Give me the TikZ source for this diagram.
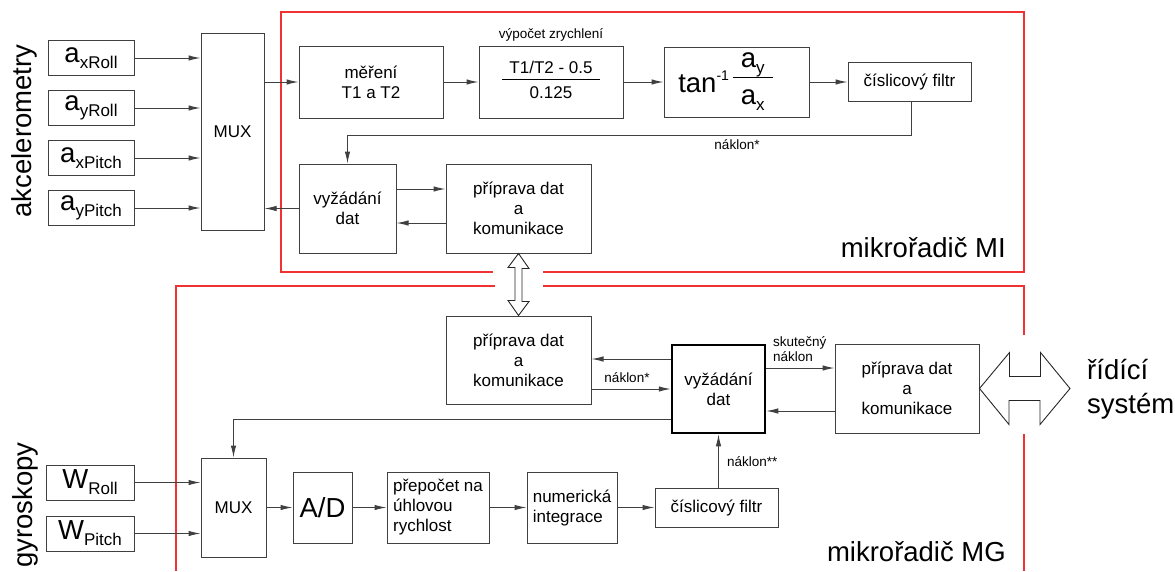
\documentclass[tikz,border=0pt]{standalone}
\usepackage{fontspec}
\setmainfont{Liberation Sans}
\usetikzlibrary{arrows.meta,calc}

\definecolor{boxgray}{RGB}{64,64,64}
\definecolor{framered}{RGB}{240,50,50}

\newcommand\fsbox{\fontsize{17}{20}\selectfont}
\newcommand\fslbl{\fontsize{13.5}{15.5}\selectfont}
\newcommand\fsbig{\fontsize{27.5}{34}\selectfont}
\newcommand\fssub{\fontsize{17}{20}\selectfont}
\newcommand\fssup{\fontsize{14}{16}\selectfont}
% large letter with a smaller, lowered index
\newcommand\bigsub[2]{{\fsbig #1}\raisebox{-6pt}{\fssub #2}}

\tikzset{
  blk/.style={draw=boxgray, line width=1pt, inner sep=0pt, align=center, font=\fsbox},
  thickblk/.style={blk, draw=black, line width=2.5pt},
  arr/.style={draw=boxgray, line width=1pt, -{Latex[length=12pt,width=5.5pt]}},
  wire/.style={draw=boxgray, line width=1pt},
  frame/.style={draw=framered, line width=1.2pt},
  hollow/.style={draw=black!85, line width=0.9pt, fill=white, line join=miter},
  lbl/.style={font=\fslbl, inner sep=0pt},
  biglbl/.style={font=\fsbig, inner sep=0pt},
}

\begin{document}
\begin{tikzpicture}[x=1pt,y=-1pt]
\useasboundingbox (0,0) rectangle (1175,571);

% ---------- controller frames ----------
\draw[frame] (493,272) -- (281,272) -- (281,12) -- (1024,12) -- (1024,272) -- (543,272);
\draw[frame] (495,286) -- (176,286) -- (176,571);
\draw[frame] (543,286) -- (1024,286) -- (1024,335);
\draw[frame] (1024,434) -- (1024,571);

% ---------- accelerometer branch ----------
\node[biglbl, rotate=90] (akc) at (24,131) {akcelerometry};

\node[blk, minimum width=86pt, minimum height=35pt] (axr) at (91,58)  {\bigsub{a}{xRoll}};
\node[blk, minimum width=86pt, minimum height=35pt] (ayr) at (91,108) {\bigsub{a}{yRoll}};
\node[blk, minimum width=86pt, minimum height=35pt] (axp) at (91,158) {\bigsub{a}{xPitch}};
\node[blk, minimum width=86pt, minimum height=35pt] (ayp) at (91,208) {\bigsub{a}{yPitch}};

\node[blk, minimum width=63pt, minimum height=197pt] (muxa) at (232.5,131.5) {MUX};

\node[blk, minimum width=144pt, minimum height=72pt] (mer) at (371,82) {měření\\T1 a T2};
\node[blk, minimum width=144pt, minimum height=72pt] (vyp) at (551,82)
  {\begin{tabular}{@{\hspace{7pt}}c@{\hspace{7pt}}}T1/T2 - 0.5\\\hline\rule{0pt}{19pt}0.125\end{tabular}};
\node[lbl] (vyplbl) at ([yshift=11pt]vyp.north) {výpočet zrychlení};
\node[blk, minimum width=145pt, minimum height=70pt] (tan) at (736.5,82)
  {{\fsbig tan}\raisebox{12pt}{\fssup -1}\hspace{4pt}%
   \raisebox{6pt}{\begin{tabular}{@{\hspace{8pt}}c@{\hspace{8pt}}}\bigsub{a}{y}\rule[-3pt]{0pt}{1pt}\\\hline\rule{0pt}{27pt}\bigsub{a}{x}\end{tabular}}\hspace{22pt}};
\node[blk, minimum width=123pt, minimum height=39pt] (fila) at (909.5,82) {číslicový filtr};

\node[blk, minimum width=97pt, minimum height=89pt] (vyza) at (347.5,208.5) {vyžádání\\dat};
\node[blk, minimum width=145pt, minimum height=89pt] (pria) at (518.5,208.5) {příprava dat\\a\\komunikace};

\node[biglbl, anchor=east] (mi) at (1006,248) {mikrořadič MI};

% accelerometer connectors
\foreach \s in {axr,ayr,axp,ayp}
  \draw[arr] (\s.east) -- (\s.east -| muxa.west);
\draw[arr] (mer.west -| muxa.east) -- (mer.west);
\draw[arr] (mer) -- (vyp);
\draw[arr] (vyp) -- (tan);
\draw[arr] (tan) -- (fila);
\draw[arr] ([xshift=2pt]fila.south) -- ++(0,33) -| (vyza.north);
\node[lbl] (nak1) at (737,145) {náklon*};
\draw[arr] ([yshift=19.5pt]vyza.east) -- ([yshift=19.5pt]vyza.east -| pria.west);
\draw[arr] ([yshift=-14.5pt]pria.west) -- ([yshift=-14.5pt]pria.west -| vyza.east);
\draw[arr] (vyza.west) -- (vyza.west -| muxa.east);

% ---------- link between controllers ----------
\node[blk, minimum width=145pt, minimum height=88pt] (prib) at (518.5,360) {příprava dat\\a\\komunikace};
\draw[hollow] (pria.south) -- ++(10.5,15) -- ++(-7,0) -- ++(0,33) -- ++(7,0) -- (prib.north)
  -- ++(-10.5,-15) -- ++(7,0) -- ++(0,-33) -- ++(-7,0) -- cycle;

% ---------- gyroscope branch ----------
\node[biglbl, rotate=90] (gyr) at (25,505) {gyroskopy};

\node[thickblk, minimum width=93pt, minimum height=88pt] (vyzb) at (718.5,389) {vyžádání\\dat};
\node[blk, minimum width=144pt, minimum height=89pt] (pric) at (907,388.5) {příprava dat\\a\\komunikace};

\node[blk, minimum width=88pt, minimum height=35pt] (wr) at (90,482.5) {\bigsub{W}{Roll}};
\node[blk, minimum width=88pt, minimum height=35pt] (wp) at (90,533.5) {\bigsub{W}{Pitch}};
\node[blk, minimum width=65pt, minimum height=99pt] (muxb) at (233.5,507.5) {MUX};
\node[blk, minimum width=59pt, minimum height=71pt, font=\fsbig] (ad) at (322.5,507.5) {A/D};
\node[blk, minimum width=102pt, minimum height=71pt, align=left] (pre) at (438,507.5) {přepočet na\\úhlovou\\rychlost};
\node[blk, minimum width=90pt, minimum height=71pt, align=left] (num) at (572,507.5) {numerická\\integrace};
\node[blk, minimum width=123pt, minimum height=39pt] (filb) at (716.5,507.5) {číslicový filtr};

\node[biglbl, anchor=east] (mg) at (1006,552) {mikrořadič MG};

% gyroscope connectors
\draw[arr] (wr.east) -- (wr.east -| muxb.west);
\draw[arr] (wp.east) -- (wp.east -| muxb.west);
\draw[arr] (muxb) -- (ad);
\draw[arr] (ad) -- (pre);
\draw[arr] (pre) -- (num);
\draw[arr] (num) -- (filb);
\draw[arr] (filb.north -| vyzb.south) -- (vyzb.south);
\node[lbl, anchor=west] (nak2) at (727,462) {náklon**};

\draw[arr] ([yshift=30pt]vyzb.west) -- ([yshift=30pt]vyzb.west -| prib.east);
\draw[arr] (vyzb.west -| prib.east) -- (vyzb.west);
\node[lbl] (nak3) at (627,378) {náklon*};
\draw[arr] ([yshift=-30pt]vyzb.west) -| (muxb.north);

\draw[arr] ([yshift=21pt]vyzb.east) -- ([yshift=21pt]vyzb.east -| pric.west);
\node[lbl, align=left, anchor=south west] (skut) at (773,362) {skutečný\\náklon};
\draw[arr] ([yshift=-22.5pt]pric.west) -- ([yshift=-22.5pt]pric.west -| vyzb.east);

% ---------- link to the control system ----------
\coordinate (ctl) at (1070,388.5);
\draw[hollow] (pric.east) -- ++(30,-36) -- ++(0,24) -- ++(31,0) -- ++(0,-24) -- (ctl)
  -- ++(-30,36) -- ++(0,-24) -- ++(-31,0) -- ++(0,24) -- cycle;
\node[biglbl, align=left, anchor=west] (sys) at (1087,389) {řídící\\systém};

\end{tikzpicture}
\end{document}
